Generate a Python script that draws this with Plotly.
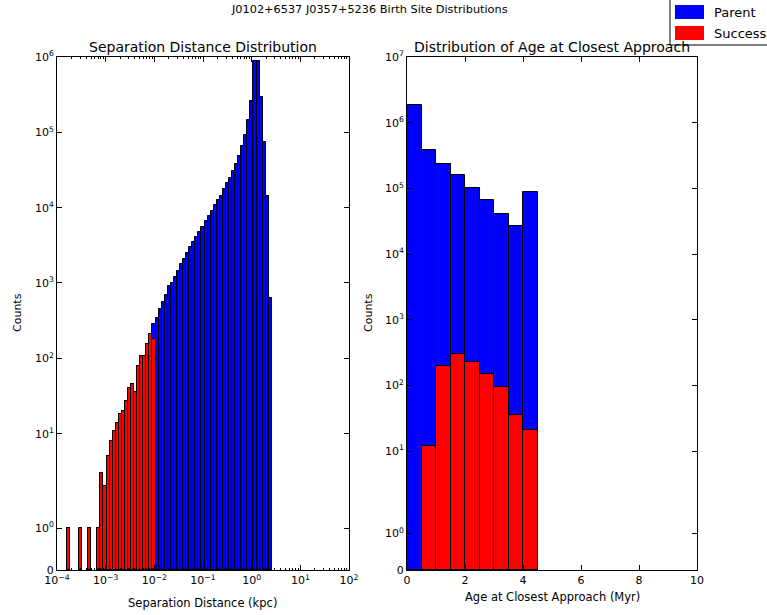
import numpy as np
import plotly.graph_objects as go

# ---- separation distance histogram (log-spaced bins, kpc) ----
sep_log_min = -3.80
sep_log_max = 0.415
sep_n_bins = 67
sep_all_counts = [
    1, 0, 0, 0, 1, 0, 0, 1, 0, 0,
    1, 3, 2, 5, 8, 11, 14, 18, 20, 27,
    40, 45, 36, 80, 109, 109, 157, 213, 282, 348,
    458, 567, 703, 906, 1000, 1219, 1465, 1762, 2053, 2467,
    2965, 3454, 4026, 4690, 5470, 6575, 7660, 8930, 10700, 12500,
    14260, 17500, 21500, 25100, 30700, 37700, 48500, 65900, 91400, 146000,
    261000, 890000, 873000, 296000, 74500, 14300, 635,
]
sep_success_counts = [
    1, 0, 0, 0, 1, 0, 0, 1, 0, 0,
    1, 3, 2, 5, 8, 11, 14, 18, 20, 27,
    40, 45, 36, 80, 109, 109, 157, 213, 178, 0,
    0, 0, 0, 0, 0, 0, 0, 0, 0, 0,
    0, 0, 0, 0, 0, 0, 0, 0, 0, 0,
    0, 0, 0, 0, 0, 0, 0, 0, 0, 0,
    0, 0, 0, 0, 0, 0, 0,
]

# ---- age at closest approach histogram (Myr) ----
age_edges = [0.0, 0.5, 1.0, 1.5, 2.0, 2.5, 3.0, 3.5, 4.0, 4.5]
age_parent_counts = [1850000, 386000, 232000, 159000, 102000, 67000, 41000, 26400, 86900]
age_success_counts = [0, 12, 199, 297, 227, 151, 94, 35, 21]

BLUE = "#0000ff"
RED = "#ff0000"
FONT = "DejaVu Sans"

# symmetric-log y scale (linear below the threshold, log10 above)
LINTHRESH = 2.0
LINSCALE = 1.0


def symlog(v):
    v = np.asarray(v, dtype=float)
    adj = LINSCALE / (1.0 - 1.0 / 10.0)
    return np.where(v <= LINTHRESH, v * adj / LINTHRESH,
                    adj + np.log10(np.maximum(v, LINTHRESH) / LINTHRESH))


def bar_heights(counts):
    counts = np.asarray(counts, dtype=float)
    h = symlog(counts)
    return [float(y) if c > 0 else None for y, c in zip(h, counts)]


sep_edges = np.linspace(sep_log_min, sep_log_max, sep_n_bins + 1)
sep_centers = 0.5 * (sep_edges[:-1] + sep_edges[1:])
sep_width = sep_edges[1] - sep_edges[0]

age_edges_arr = np.asarray(age_edges)
age_centers = 0.5 * (age_edges_arr[:-1] + age_edges_arr[1:])
age_width = age_edges_arr[1] - age_edges_arr[0]

edge = dict(color="black", width=1)

fig = go.Figure()
fig.add_trace(go.Bar(x=sep_centers, y=bar_heights(sep_all_counts), width=sep_width,
                     marker=dict(color=BLUE, line=edge), xaxis="x", yaxis="y",
                     name="Parent", showlegend=False))
fig.add_trace(go.Bar(x=sep_centers, y=bar_heights(sep_success_counts), width=sep_width,
                     marker=dict(color=RED, line=edge), xaxis="x", yaxis="y",
                     name="Success", showlegend=False))
fig.add_trace(go.Bar(x=age_centers, y=bar_heights(age_parent_counts), width=age_width,
                     marker=dict(color=BLUE, line=edge), xaxis="x2", yaxis="y2",
                     name="Parent", showlegend=False))
fig.add_trace(go.Bar(x=age_centers, y=bar_heights(age_success_counts), width=age_width,
                     marker=dict(color=RED, line=edge), xaxis="x2", yaxis="y2",
                     name="Success", showlegend=False))

W, H = 767, 615


def px_x(p):
    return p / W


def px_y(p):
    return 1 - p / H


sup = lambda s: s.replace("-", "\u2212")
log_major = list(range(-4, 3))
log_minor = [float(np.log10(k * 10.0 ** n)) for n in range(-4, 2) for k in range(2, 10)]

y_left_decades = list(range(0, 7))
y_right_decades = list(range(0, 8))

axis_common = dict(showline=True, linecolor="black", linewidth=1, mirror="allticks",
                   ticks="inside", tickcolor="black", ticklen=5, tickwidth=1,
                   showgrid=False, zeroline=False, automargin=False,
                   tickfont=dict(family=FONT, size=11, color="black"))

fig.update_layout(
    width=W, height=H,
    margin=dict(l=0, r=0, t=0, b=0, pad=0, autoexpand=False),
    paper_bgcolor="white", plot_bgcolor="white",
    barmode="overlay", bargap=0,
    showlegend=False,
    font=dict(family=FONT, color="black"),
    xaxis=dict(domain=[px_x(57), px_x(349)], range=[-4, 2],
               tickmode="array", tickvals=log_major,
               ticktext=[sup(f"10<sup>{n}</sup>") for n in log_major],
               minor=dict(tickmode="array", tickvals=log_minor, ticks="inside",
                          ticklen=2, tickcolor="black", showgrid=False),
               anchor="y", **axis_common),
    yaxis=dict(domain=[px_y(570), px_y(57)], range=[0, float(symlog(1e6))],
               tickmode="array",
               tickvals=[0.0] + [float(symlog(10.0 ** n)) for n in y_left_decades],
               ticktext=["0"] + [f"10<sup>{n}</sup>" for n in y_left_decades],
               anchor="x", **axis_common),
    xaxis2=dict(domain=[px_x(407), px_x(697)], range=[0, 10],
                tickmode="array", tickvals=[0, 2, 4, 6, 8, 10],
                anchor="y2", **axis_common),
    yaxis2=dict(domain=[px_y(570), px_y(57)], range=[0, float(symlog(1e7))],
                tickmode="array",
                tickvals=[0.0] + [float(symlog(10.0 ** n)) for n in y_right_decades],
                ticktext=["0"] + [f"10<sup>{n}</sup>" for n in y_right_decades],
                anchor="x2", **axis_common),
)


def text(x, y, s, size, angle=0):
    fig.add_annotation(x=px_x(x), y=px_y(y), xref="paper", yref="paper", text=s,
                       showarrow=False, textangle=angle, xanchor="center", yanchor="middle",
                       font=dict(family=FONT, size=size, color="black"))


text(369, 10, "J0102+6537 J0357+5236 Birth Site Distributions", 11.3)
text(203, 47, "Separation Distance Distribution", 14)
text(552, 47, "Distribution of Age at Closest Approach", 14)
text(17, 313, "Counts", 11, -90)
text(368, 313, "Counts", 11, -90)
text(203, 603, "Separation Distance (kpc)", 11.5)
text(552, 597, "Age at Closest Approach (Myr)", 11.5)

# legend box in the top-right corner
fig.add_shape(type="rect", xref="paper", yref="paper",
              x0=px_x(670), x1=px_x(780), y0=px_y(45), y1=px_y(-5),
              line=dict(color="black", width=1), fillcolor="white")
for i, (label, color) in enumerate([("Parent", BLUE), ("Success", RED)]):
    yc = 12 + 21 * i
    fig.add_shape(type="rect", xref="paper", yref="paper",
                  x0=px_x(675), x1=px_x(704), y0=px_y(yc + 7), y1=px_y(yc - 7),
                  line=dict(color=color, width=0), fillcolor=color)
    fig.add_annotation(x=px_x(712), y=px_y(yc), xref="paper", yref="paper", text=label,
                       showarrow=False, xanchor="left", yanchor="middle",
                       font=dict(family=FONT, size=13, color="black"))

fig.write_html("out.html")
